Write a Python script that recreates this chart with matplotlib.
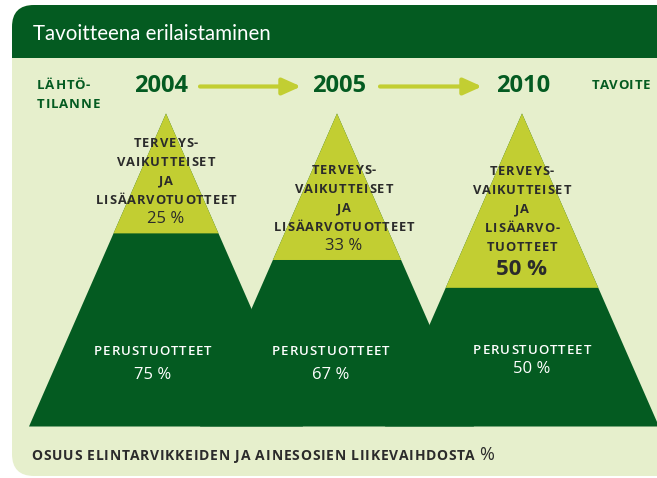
import matplotlib
matplotlib.use('Agg')
import matplotlib.pyplot as plt
from matplotlib.patches import Polygon, FancyBboxPatch, Rectangle
from matplotlib.font_manager import FontProperties

# ── data ───────────────────────────────────────────────────────────────────────
years        = ['2004', '2005', '2010']
added_share  = [25, 33, 50]          # terveysvaikutteiset ja lisäarvotuotteet %
basic_share  = [75, 67, 50]          # perustuotteet %
snowline     = [0.383, 0.468, 0.557] # split level, share of peak height from apex
added_labels = ['TERVEYS-\nVAIKUTTEISET\nJA\nLISÄARVOTUOTTEET',
                'TERVEYS-\nVAIKUTTEISET\nJA\nLISÄARVOTUOTTEET',
                'TERVEYS-\nVAIKUTTEISET\nJA\nLISÄARVO-\nTUOTTEET']
basic_label  = 'PERUSTUOTTEET'
title        = 'Tavoitteena erilaistaminen'
footer       = 'OSUUS ELINTARVIKKEIDEN JA AINESOSIEN LIIKEVAIHDOSTA'

# ── style ──────────────────────────────────────────────────────────────────────
DARK   = '#045b21'
LIME   = '#c2ce32'
BG     = '#e6efcc'
INK    = '#2b2b2b'
FONT   = 'Open Sans'

W, H = 657, 478
fig = plt.figure(figsize=(W / 100, H / 100), dpi=100)
ax = fig.add_axes([0, 0, 1, 1])
ax.set_xlim(0, W)
ax.set_ylim(H, 0)
ax.axis('off')
renderer = fig.canvas.get_renderer()


def text_w(s, prop):
    w, _, _ = renderer.get_text_width_height_descent(s, prop, ismath=False)
    return w


def tracked(x, y, s, track, size, weight='bold', color=INK, ha='left', family=FONT):
    """Letter-spaced text, drawn glyph by glyph (x units are pixels here)."""
    prop = FontProperties(family=family, size=size, weight=weight)
    bar = text_w('|', prop)
    pen = [text_w(s[:i] + '|', prop) - bar if i else 0.0 for i in range(len(s) + 1)]
    pen[-1] = text_w(s, prop)
    total = pen[-1] + (len(s) - 1) * track
    x0 = x - total / 2 if ha == 'center' else x
    for i, ch in enumerate(s):
        if ch == ' ':
            continue
        cx = x0 + pen[i] + i * track + (pen[i + 1] - pen[i]) / 2
        ax.text(cx, y, ch, fontproperties=prop, color=color, ha='center', va='baseline')
    return x0 + total


# ── frame ──────────────────────────────────────────────────────────────────────
ax.add_patch(FancyBboxPatch((12, 5), 700, 471, boxstyle='round,pad=0,rounding_size=22',
                            fc=BG, ec='none'))
ax.add_patch(FancyBboxPatch((12, 5), 700, 80, boxstyle='round,pad=0,rounding_size=22',
                            fc=DARK, ec='none'))
ax.add_patch(Rectangle((12, 58), 700, 40, fc=BG, ec='none'))
ax.text(33, 40, title, color='white', fontsize=14.8, family='Lato', weight='normal',
        va='baseline')

# ── timeline ───────────────────────────────────────────────────────────────────
tracked(37, 89, 'LÄHTÖ-', 0.8, 9.5, color=DARK)
tracked(37, 108, 'TILANNE', 0.8, 9.5, color=DARK)
tracked(592, 89, 'TAVOITE', 0.7, 9.5, color=DARK)

year_x = [161, 339, 523]
for yx, yr in zip(year_x, years):
    ax.text(yx, 92, yr, color=DARK, fontsize=17, weight='bold', family=FONT,
            ha='center', va='baseline')
for x0, x1 in [(200, 301), (380, 482)]:
    ax.annotate('', xy=(x1, 86.5), xytext=(x0, 86.5),
                arrowprops=dict(arrowstyle='-|>,head_length=0.8,head_width=0.36',
                                mutation_scale=14, lw=3, color=LIME,
                                shrinkA=0, shrinkB=0))

# ── mountains ──────────────────────────────────────────────────────────────────
peak_x   = [166, 337, 522]
apex_y   = 113.5
base_y   = 426.5
half_w   = 137
height   = base_y - apex_y

for px in peak_x:
    ax.add_patch(Polygon([(px, apex_y), (px - half_w, base_y), (px + half_w, base_y)],
                         closed=True, fc=DARK, ec='none'))
for px, s in zip(peak_x, snowline):
    ys = apex_y + s * height
    dx = half_w * s
    ax.add_patch(Polygon([(px, apex_y), (px - dx, ys), (px + dx, ys)],
                         closed=True, fc=LIME, ec='none'))

# labels on the peaks
top_first = [146.7, 174, 175]
top_x     = [166, 344, 522]
line_h    = 19
for i in range(3):
    lines = added_labels[i].split('\n')
    for j, ln in enumerate(lines):
        tracked(top_x[i], top_first[i] + j * line_h, ln, 0.9, 9.3, ha='center')
    yv = top_first[i] + len(lines) * line_h
    big = i == 2
    ax.text(top_x[i], yv + (5 if big else 0), f'{added_share[i]} %', color=INK,
            fontsize=16 if big else 12, weight='bold' if big else 'normal',
            family=FONT, ha='center', va='baseline')

base_x   = [153, 331, 532]
base_lab = [355, 355, 354]
base_val = [379.3, 379.3, 373.3]
for i in range(3):
    tracked(base_x[i], base_lab[i], basic_label, 1.0, 9.5, weight='semibold',
            color='white', ha='center')
    ax.text(base_x[i], base_val[i], f'{basic_share[i]} %', color='white', fontsize=12,
            family=FONT, ha='center', va='baseline')

# ── footer ─────────────────────────────────────────────────────────────────────
end = tracked(31.5, 460, footer, 0.8, 10)
ax.text(end + 5, 460, '%', color=INK, fontsize=13, family=FONT, va='baseline')

fig.savefig('out.png', dpi=100)
